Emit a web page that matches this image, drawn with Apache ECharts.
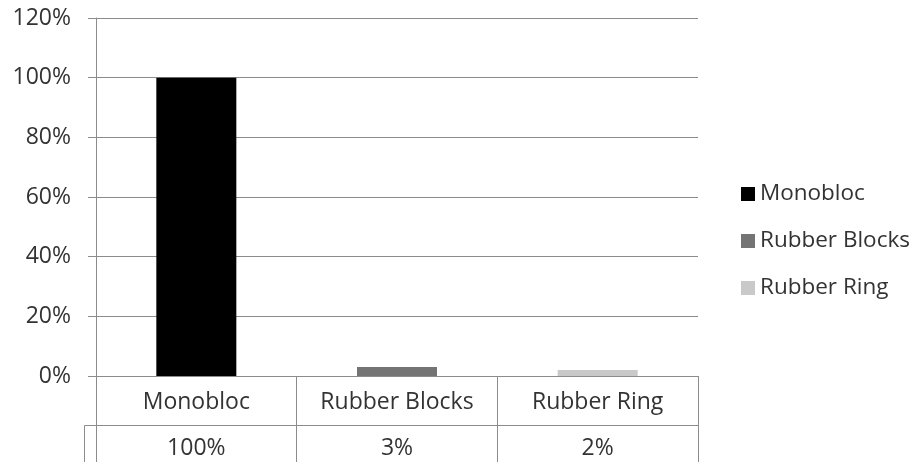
<!DOCTYPE html>
<html>
<head>
<meta charset="utf-8">
<script src="https://cdn.jsdelivr.net/npm/echarts@6/dist/echarts.min.js"></script>
<style>
  html, body { margin: 0; padding: 0; background: #fff; }
  #chart { width: 916px; height: 464px; }
</style>
</head>
<body>
<div id="chart"></div>
<script>
// Share of each mounting type (percent)
const categories = ['Monobloc', 'Rubber Blocks', 'Rubber Ring'];
const shareValues = [100, 3, 2];
const seriesColors = ['#000000', '#747474', '#c9c9c9'];
const yTicks = [0, 20, 40, 60, 80, 100, 120];

const textColor = '#333333';
const lineColor = '#8c8c8c';
const fontFamily = '"Open Sans", sans-serif';

const pct = v => Math.round(v) + '%';

// One series per category so the legend lists each type; stacking keeps bars centred
const series = categories.map((name, i) => ({
  name: name,
  type: 'bar',
  stack: 'share',
  barWidth: 80,
  itemStyle: { color: seriesColors[i] },
  data: categories.map((c, j) => (j === i ? shareValues[i] : null))
}));

const chart = echarts.init(document.getElementById('chart'), null, { renderer: 'canvas' });
chart.setOption({
  animation: false,
  backgroundColor: '#ffffff',
  textStyle: { fontFamily: fontFamily, color: textColor },
  grid: { left: 96, right: 218, top: 18, bottom: 88, containLabel: false },
  legend: {
    orient: 'vertical',
    left: 736,
    top: 175,
    icon: 'rect',
    itemWidth: 14,
    itemHeight: 14,
    itemGap: 19,
    textStyle: { fontFamily: fontFamily, fontSize: 22.5, color: textColor, lineHeight: 28 },
    data: categories
  },
  xAxis: [
    {
      type: 'category',
      data: categories,
      position: 'bottom',
      axisLine: { show: true, lineStyle: { color: lineColor, width: 1 } },
      axisTick: { show: true, alignWithLabel: false, length: 86, lineStyle: { color: lineColor, width: 1 } },
      axisLabel: { fontFamily: fontFamily, fontSize: 23, color: textColor, margin: 13, lineHeight: 26, interval: 0 },
      splitLine: { show: false }
    },
    {
      type: 'category',
      data: categories,
      position: 'bottom',
      offset: 49,
      axisLine: { show: true, lineStyle: { color: lineColor, width: 1 } },
      axisTick: { show: false },
      axisLabel: {
        fontFamily: fontFamily, fontSize: 23, color: textColor, margin: 10, lineHeight: 26, interval: 0,
        formatter: (v, i) => pct(shareValues[i])
      },
      splitLine: { show: false }
    }
  ],
  yAxis: {
    type: 'value',
    min: yTicks[0],
    max: yTicks[yTicks.length - 1],
    interval: 20,
    axisLine: { show: true, lineStyle: { color: lineColor, width: 1 } },
    axisTick: { show: true, length: 8, lineStyle: { color: lineColor, width: 1 } },
    axisLabel: { fontFamily: fontFamily, fontSize: 23, color: textColor, margin: 25, formatter: v => pct(v) },
    splitLine: { show: true, lineStyle: { color: lineColor, width: 1 } }
  },
  series: series
});

// Left edge of the data table's value row
chart.setOption({
  graphic: [
    { type: 'line', shape: { x1: 84.5, y1: 425.5, x2: 96, y2: 425.5 }, style: { stroke: lineColor, lineWidth: 1 } },
    { type: 'line', shape: { x1: 84.5, y1: 425.5, x2: 84.5, y2: 462 }, style: { stroke: lineColor, lineWidth: 1 } }
  ]
});
</script>
</body>
</html>
